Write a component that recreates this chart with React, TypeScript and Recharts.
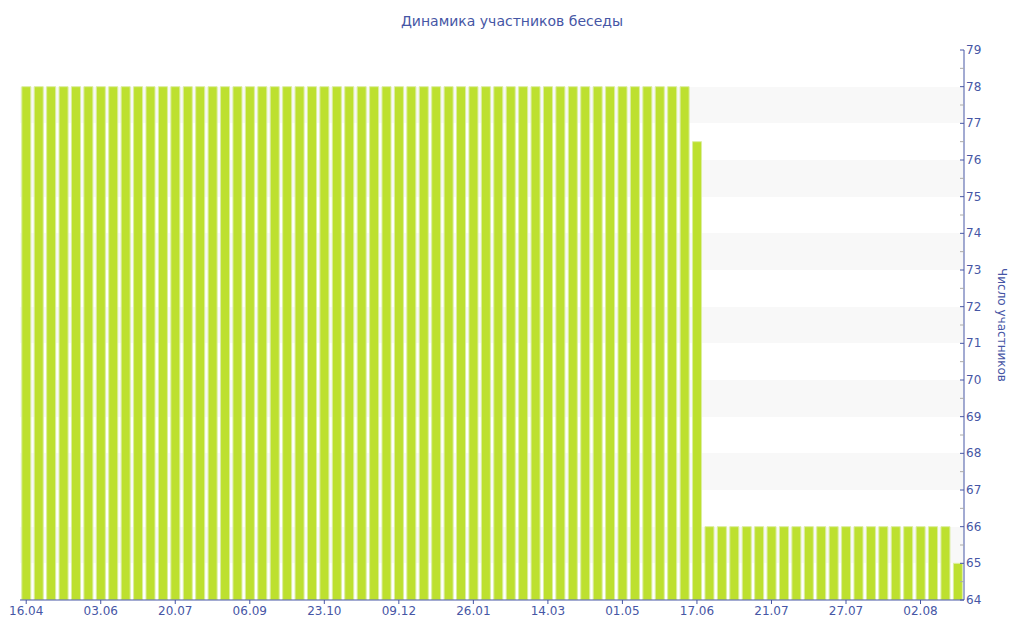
import { BarChart, Bar, XAxis, YAxis, CartesianGrid } from "recharts";

const dates = [
  "16.04", "24.04", "02.05", "10.05", "18.05", "26.05",
  "03.06", "11.06", "19.06", "27.06", "05.07", "12.07",
  "20.07", "28.07", "05.08", "13.08", "21.08", "29.08",
  "06.09", "14.09", "22.09", "30.09", "08.10", "15.10",
  "23.10", "31.10", "08.11", "16.11", "24.11", "01.12",
  "09.12", "17.12", "25.12", "02.01", "10.01", "18.01",
  "26.01", "03.02", "11.02", "19.02", "27.02", "06.03",
  "14.03", "22.03", "30.03", "07.04", "15.04", "23.04",
  "01.05", "09.05", "17.05", "25.05", "02.06", "10.06",
  "17.06", "16.07", "17.07", "18.07", "19.07", "20.07",
  "21.07", "22.07", "23.07", "24.07", "25.07", "26.07",
  "27.07", "28.07", "29.07", "30.07", "31.07", "01.08",
  "02.08", "03.08", "04.08", "05.08",
];

const members = [
  78, 78, 78, 78, 78, 78,
  78, 78, 78, 78, 78, 78,
  78, 78, 78, 78, 78, 78,
  78, 78, 78, 78, 78, 78,
  78, 78, 78, 78, 78, 78,
  78, 78, 78, 78, 78, 78,
  78, 78, 78, 78, 78, 78,
  78, 78, 78, 78, 78, 78,
  78, 78, 78, 78, 78, 78,
  76.5, 66, 66, 66, 66, 66,
  66, 66, 66, 66, 66, 66,
  66, 66, 66, 66, 66, 66,
  66, 66, 66, 65,
];

const yTicks = [
  64, 64.5, 65, 65.5, 66, 66.5, 67, 67.5, 68, 68.5, 69, 69.5, 70, 70.5,
  71, 71.5, 72, 72.5, 73, 73.5, 74, 74.5, 75, 75.5, 76, 76.5, 77, 77.5,
  78, 78.5, 79,
];

const data = dates.map((d, i) => ({ date: d, count: members[i] }));

const BLUE = "#4656a5";

function YTick(props: any) {
  const { x, y, payload } = props;
  const major = Number.isInteger(payload.value);
  return (
    <g>
      <line
        x1={x - 6}
        x2={x - 2}
        y1={y}
        y2={y}
        stroke={major ? BLUE : "#aaaaaa"}
        strokeWidth={1}
      />
      {major && (
        <text x={x} y={y} dy={4} fill={BLUE} fontSize={12} textAnchor="start">
          {payload.value}
        </text>
      )}
    </g>
  );
}

function YLabel(props: any) {
  const { viewBox } = props;
  const cx = viewBox.x + 34;
  const cy = viewBox.y + viewBox.height / 2;
  return (
    <text
      x={cx}
      y={cy}
      fill={BLUE}
      fontSize={12}
      textAnchor="middle"
      transform={`rotate(90 ${cx} ${cy})`}
    >
      Число участников
    </text>
  );
}

export default function App() {
  return (
    <div
      style={{
        position: "absolute",
        left: 0,
        top: 0,
        width: 1024,
        height: 640,
        background: "#ffffff",
        fontFamily: "'DejaVu Sans', Verdana, sans-serif",
      }}
    >
      <div
        style={{
          position: "absolute",
          top: 13,
          left: 0,
          width: 1024,
          textAlign: "center",
          fontSize: 14,
          color: BLUE,
        }}
      >
        Динамика участников беседы
      </div>
      <BarChart
        width={1024}
        height={640}
        data={data}
        margin={{ top: 50, right: 16, bottom: 0, left: 20 }}
        barCategoryGap={1.8}
      >
        <CartesianGrid
          vertical={false}
          stroke="none"
          horizontalFill={["#ffffff", "#ffffff", "#f8f8f8", "#f8f8f8"]}
        />
        <XAxis
          dataKey="date"
          interval={5}
          height={40}
          axisLine={{ stroke: BLUE }}
          tickLine={{ stroke: BLUE }}
          tickSize={4}
          tick={{ fill: BLUE, fontSize: 12 }}
        />
        <YAxis
          orientation="right"
          width={44}
          domain={[64, 79]}
          ticks={yTicks}
          interval={0}
          allowDataOverflow
          axisLine={{ stroke: BLUE }}
          tickLine={false}
          tickSize={0}
          tickMargin={2}
          tick={<YTick />}
          label={<YLabel />}
        />
        <Bar
          dataKey="count"
          fill="#bde02f"
          stroke="#dbeea0"
          strokeWidth={1}
          isAnimationActive={false}
        />
      </BarChart>
    </div>
  );
}
